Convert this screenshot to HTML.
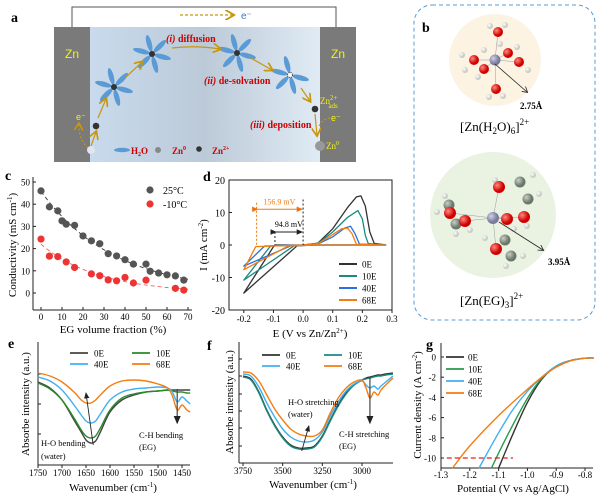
<!DOCTYPE html>
<html><head><meta charset="utf-8"><style>
html,body{margin:0;padding:0;background:#fff;}
svg{display:block;font-family:"Liberation Serif",serif;}
</style></head><body>
<svg id="fig" width="600" height="496" viewBox="0 0 600 496" xmlns="http://www.w3.org/2000/svg">
<defs>
<linearGradient id="elec" x1="0" x2="1" y1="0" y2="0"><stop offset="0" stop-color="#c8daec"/><stop offset="0.5" stop-color="#bccad8"/><stop offset="1" stop-color="#e0ebf4"/></linearGradient>
<radialGradient id="gO" cx="0.35" cy="0.35"><stop offset="0" stop-color="#ff8a80"/><stop offset="1" stop-color="#d00000"/></radialGradient>
<radialGradient id="gH" cx="0.35" cy="0.35"><stop offset="0" stop-color="#ffffff"/><stop offset="1" stop-color="#c8ccc4"/></radialGradient>
<radialGradient id="gZ" cx="0.35" cy="0.35"><stop offset="0" stop-color="#d0d0e8"/><stop offset="1" stop-color="#7a7a9a"/></radialGradient>
<radialGradient id="gC" cx="0.35" cy="0.35"><stop offset="0" stop-color="#c8d0c8"/><stop offset="1" stop-color="#6a786a"/></radialGradient>
<marker id="arY" markerWidth="8" markerHeight="8" refX="6" refY="4" orient="auto"><path d="M0,0 L7,4 L0,8" fill="none" stroke="#c8960c" stroke-width="1.4"/></marker>
<marker id="arK" markerWidth="8" markerHeight="8" refX="6" refY="4" orient="auto"><path d="M0,1 L7,4 L0,7 Z" fill="#222"/></marker>
<marker id="arKo" markerWidth="8" markerHeight="8" refX="6" refY="4" orient="auto"><path d="M0,0 L7,4 L0,8" fill="none" stroke="#222" stroke-width="1"/></marker>
<marker id="arO" markerWidth="8" markerHeight="8" refX="6" refY="4" orient="auto"><path d="M0,1 L7,4 L0,7 Z" fill="#f07010"/></marker>
</defs>

<!-- Panel a -->
<g>
<text x="11" y="22" font-size="14" font-weight="bold">a</text>
<polyline points="72,27 72,7 336,7 336,27" fill="none" stroke="#555" stroke-width="1"/>
<line x1="180" y1="15" x2="233" y2="15" stroke="#c8960c" stroke-width="1.3" stroke-dasharray="3,2" marker-end="url(#arY)"/>
<text x="241" y="19" font-size="10" fill="#3a7ac0" font-family="Liberation Sans, sans-serif">e⁻</text>
<rect x="90" y="27" width="230" height="135" fill="url(#elec)"/>
<rect x="54" y="27" width="36" height="135" fill="#7a7a7a"/>
<rect x="320" y="27" width="36" height="135" fill="#7a7a7a"/>
<text x="65" y="58" font-size="12" fill="#f0f020" font-family="Liberation Sans, sans-serif">Zn</text>
<text x="331" y="58" font-size="12" fill="#f0f020" font-family="Liberation Sans, sans-serif">Zn</text>
<g id="flowers"></g>
<text x="166" y="42" font-size="10" fill="#c00" font-weight="bold"><tspan font-style="italic">(i)</tspan> diffusion</text>
<text x="204" y="84" font-size="10" fill="#c00" font-weight="bold"><tspan font-style="italic">(ii)</tspan> de-solvation</text>
<text x="250" y="128" font-size="10" fill="#c00" font-weight="bold"><tspan font-style="italic">(iii)</tspan> deposition</text>
<path d="M172,48 Q195,45 220,49" fill="none" stroke="#c8960c" stroke-width="1.2" marker-end="url(#arY)"/>
<line x1="125" y1="78" x2="142" y2="62" stroke="#c8960c" stroke-width="1.2" marker-end="url(#arY)"/>
<line x1="98" y1="118" x2="106" y2="99" stroke="#c8960c" stroke-width="1.2" marker-end="url(#arY)"/>
<line x1="91" y1="146" x2="96" y2="132" stroke="#c8960c" stroke-width="1.2" marker-end="url(#arY)"/>
<line x1="249" y1="57" x2="272" y2="70" stroke="#c8960c" stroke-width="1.2" marker-end="url(#arY)"/>
<line x1="301" y1="88" x2="310" y2="101" stroke="#c8960c" stroke-width="1.2" marker-end="url(#arY)"/>
<line x1="315" y1="114" x2="317" y2="135" stroke="#c8960c" stroke-width="1.2" marker-end="url(#arY)"/>
<path d="M88,148 Q78,138 79,124" fill="none" stroke="#c8960c" stroke-width="1.1" stroke-dasharray="2,2" marker-end="url(#arY)"/>
<text x="76" y="120" font-size="9" fill="#f0f020" font-family="Liberation Sans, sans-serif">e⁻</text>
<path d="M330,118 Q320,120 319,128" fill="none" stroke="#c8960c" stroke-width="1.1" stroke-dasharray="2,2"/>
<text x="331" y="121" font-size="9" fill="#f0f020" font-family="Liberation Sans, sans-serif">e⁻</text>
<circle cx="96" cy="126" r="3.3" fill="#333"/>
<circle cx="315" cy="109" r="3.3" fill="#333"/>
<circle cx="91" cy="150" r="4" fill="#dfe6ee"/>
<circle cx="320" cy="146" r="5" fill="#999"/>
<text x="320" y="104" font-size="9" fill="#f0f020">Zn<tspan font-size="7" dy="-4">2+</tspan><tspan font-size="7" dx="-9" dy="8">ads</tspan></text>
<text x="326" y="149" font-size="9" fill="#f0f020">Zn<tspan font-size="6" dy="-4">0</tspan></text>
<ellipse cx="122" cy="150" rx="8" ry="2.2" fill="#5b9bd5"/>
<text x="131" y="154" font-size="9" fill="#c00" font-weight="bold">H<tspan font-size="6" dy="2">2</tspan><tspan dy="-2">O</tspan></text>
<circle cx="158" cy="150" r="3" fill="#888"/>
<text x="172" y="154" font-size="9" fill="#c00" font-weight="bold">Zn<tspan font-size="6" dy="-4">0</tspan></text>
<circle cx="199" cy="149" r="2.8" fill="#333"/>
<text x="212" y="154" font-size="9" fill="#c00" font-weight="bold">Zn<tspan font-size="6" dy="-4">2+</tspan></text>
</g>

<!-- Panel b -->
<g>
<rect x="414" y="5" width="181" height="315" rx="18" fill="none" stroke="#5b9bd5" stroke-width="1" stroke-dasharray="4,3"/>
<text x="422" y="32" font-size="14" font-weight="bold">b</text>
<circle cx="495" cy="60" r="46" fill="#fcf3e2"/>
<circle cx="493" cy="215" r="63" fill="#eaf3e2"/>
<g id="mol"></g>
<line x1="495" y1="64" x2="527" y2="92" stroke="#222" stroke-width="0.8" marker-end="url(#arKo)"/>
<text x="520" y="109" font-size="9" font-weight="bold">2.75Å</text>
<text x="460" y="131" font-size="13">[Zn(H<tspan font-size="9" dy="3">2</tspan><tspan dy="-3">O)</tspan><tspan font-size="9" dy="3">6</tspan><tspan dy="-3">]</tspan><tspan font-size="9" dy="-6">2+</tspan></text>
<line x1="499" y1="222" x2="543" y2="250" stroke="#222" stroke-width="0.8" marker-end="url(#arKo)"/>
<text x="548" y="265" font-size="9" font-weight="bold">3.95Å</text>
<text x="460" y="305" font-size="13">[Zn(EG)<tspan font-size="9" dy="3">3</tspan><tspan dy="-3">]</tspan><tspan font-size="9" dy="-6">2+</tspan></text>
</g>

<g id="charts"></g>
</svg>
<script>
// ---------- Panel c data ----------
const cFrac25 = [0,4,8,10,12,16,20,24,28,32,36,40,44,50,52,56,60,64,68];
const cCond25 = [46,38.8,37,32.5,31,30.5,25.7,23.5,22.2,17.7,16.7,15,13,13,9.8,9,8.2,7.7,5.8];
const cFrac10 = [0,4,8,12,16,24,28,32,36,40,44,50,64,68];
const cCond10 = [24.3,16.6,16.4,14,11.5,8.6,7.8,5.9,5.5,7,4.5,5.8,2.1,1.3];
const cXTicks = [0,10,20,30,40,50,60,70];
const cYTicks = [0,10,20,30,40,50];
// ---------- Panel d data ----------
const dSeries = ['0E','10E','40E','68E'];
const dE0 = [0.28,0.05,-0.02,-0.2,-0.1,-0.09,0.0,0.05,0.1,0.15,0.18,0.195,0.21,0.225,0.24,0.28];
const dI0 = [0,0,-0.2,-14.8,-0.5,0,0,0.6,5,11.5,14.8,15.1,12,4,0.5,0];
const dE10 = [0.28,0.05,-0.03,-0.2,-0.11,0.0,0.05,0.1,0.15,0.185,0.2,0.21,0.22,0.28];
const dI10 = [0,0,-0.2,-10.8,-0.3,0,0.5,4,8.5,10.6,8,3,0.4,0];
const dE40 = [0.28,0.05,-0.04,-0.2,-0.13,0.0,0.05,0.1,0.14,0.16,0.175,0.19,0.28];
const dI40 = [0,0,-0.2,-6.5,-0.3,0,0.3,2.5,5.2,5.8,3.5,0.3,0];
const dE68 = [0.28,0.05,-0.05,-0.2,-0.16,0.0,0.05,0.1,0.13,0.15,0.165,0.18,0.28];
const dI68 = [0,0,-0.3,-7.6,-0.5,0,0.4,3.2,5,5.2,3.5,0.2,0];
const dXTicks = [-0.2,-0.1,0.0,0.1,0.2,0.3];
const dYTicks = [-20,-10,0,10,20];
// ---------- Panel e data ----------
const eWave = [1750,1725,1700,1675,1660,1650,1640,1630,1620,1600,1575,1550,1525,1500,1480,1470,1460,1450,1440,1433];
const eAbs0 = [83,77,65,45,33,25,22,24,33,53,65,70,73,74,75,75,75,75,75,75];
const eAbs10 = [82,76,65,47,35,29,27,29,37,55,67,71,73,74,75,74,73,73,72,72];
const eAbs40 = [88,84,75,60,50,44,42,44,51,65,73,76,77,78,77,73,63,68,64,61];
const eAbs68 = [92,89,83,73,65,62,62,65,70,79,84,85,84,81,77,69,55,60,55,53];
const eXTicks = [1750,1700,1650,1600,1550,1500,1450];
// ---------- Panel f data ----------
const fWave = [3750,3700,3650,3600,3550,3500,3450,3400,3350,3300,3250,3200,3150,3100,3050,3000,2975,2950,2925,2900,2880,2850,2805];
const fAbs0 = [89,86,73,55,40,28,20,17,17,19,29,45,60,72,80,85,87,88,89,90,90,91,92];
const fAbs10 = [88,85,72,54,39,27,19,16,16,18,28,44,59,71,80,85,86,87,88,89,89,90,91];
const fAbs40 = [91,89,78,62,48,36,28,24,23,25,33,49,63,74,81,84,80,77,79,76,79,83,89];
const fAbs68 = [93,92,84,70,56,45,36,31,29,29,35,52,67,77,83,85,77,67,73,70,75,80,87];
const fXTicks = [3750,3500,3250,3000];
// ---------- Panel g data ----------
const gE0 = [-1.10,-1.05,-1.0,-0.95,-0.9,-0.85,-0.8,-0.77];
const gJ0 = [-11,-7.6,-4.5,-2.2,-0.9,-0.35,-0.12,-0.1];
const gE10 = [-1.125,-1.07,-1.0,-0.95,-0.9,-0.85,-0.8,-0.77];
const gJ10 = [-11,-7.8,-4.1,-2.1,-0.9,-0.35,-0.12,-0.1];
const gE40 = [-1.168,-1.1,-1.05,-1.0,-0.95,-0.9,-0.85,-0.8,-0.77];
const gJ40 = [-11,-7.5,-5.2,-3.4,-2.0,-0.9,-0.35,-0.12,-0.1];
const gE68 = [-1.26,-1.2,-1.1,-1.0,-0.95,-0.9,-0.85,-0.8,-0.77];
const gJ68 = [-11,-8.8,-5.8,-3.2,-2.0,-1.0,-0.38,-0.12,-0.1];
const gXTicks = [-1.3,-1.2,-1.1,-1.0,-0.9,-0.8];
const gYTicks = [0,-2,-4,-6,-8,-10];

const NS='http://www.w3.org/2000/svg';
function mk(tag, attrs, parent){const el=document.createElementNS(NS,tag);for(const k in attrs)el.setAttribute(k,attrs[k]);parent.appendChild(el);return el;}
function txt(s, attrs, parent){const el=mk('text',attrs,parent);el.textContent=s;return el;}
const root=document.getElementById('charts');

// ---------- Panel a flowers ----------
const fl=document.getElementById('flowers');
const flowerC=[[114,87,false],[152,54,false],[237,53,false],[290,75,true]];
flowerC.forEach((p,i)=>{
  const g=mk('g',{},fl);
  
  
  const n = p[2]?5:6;
  for(let k=0;k<n;k++){
    const a=k*360/6+15;
    const e=mk('ellipse',{cx:p[0]+11,cy:p[1],rx:8.5,ry:2.6,fill:'#5b9bd5',transform:`rotate(${a} ${p[0]} ${p[1]})`},g);
    
    
  }
  const c=mk('circle',{cx:p[0],cy:p[1],r:p[2]?2.5:3,fill:p[2]?'#fff':'#333',stroke:p[2]?'#333':'none','stroke-dasharray':p[2]?'1,1':'none'},g);
  
  
});

// ---------- Panel b molecules ----------
const mol=document.getElementById('mol');
const atoms1=[[495,60,'Z',5.5],[498,32,'O',5],[474,60,'O',5],[484,69,'O',5],[508,53,'O',5],[519,62,'O',5],[496,89,'O',5],[490,26,'H',3],[505,25,'H',3],[462,55,'H',3],[465,70,'H',3],[478,77,'H',3],[500,44,'H',3],[517,47,'H',3],[528,70,'H',3],[489,97,'H',3],[503,96,'H',3],[484,50,'H',3]];
const atoms2=[[493,218,'Z',6],[499,187,'O',6],[465,221,'O',6],[450,213,'O',6],[507,219,'O',6],[524,217,'O',6],[496,249,'O',6],[520,182,'C',5.5],[528,199,'C',5.5],[449,205,'C',5.5],[456,224,'C',5.5],[505,240,'C',5.5],[511,256,'C',5.5],[495,180,'H',3],[533,175,'H',3],[539,194,'H',3],[437,212,'H',3],[445,196,'H',3],[456,234,'H',3],[470,230,'H',3],[485,238,'H',3],[514,229,'H',3],[523,256,'H',3],[506,266,'H',3],[527,226,'H',3]];
[[atoms1,'h2o'],[atoms2,'eg']].forEach(([arr,nm])=>{
  const g=mk('g',{},mol);
  
  
  arr.forEach(a=>{ if(a[2]!=='Z') mk('line',{x1:arr[0][0],y1:arr[0][1],x2:a[0],y2:a[1],stroke:'#999','stroke-width':0.5,opacity:a[2]==='O'?1:0},g);});
  arr.slice().sort((p,q)=>p[3]-q[3]).forEach(a=>{
    const f={Z:'url(#gZ)',O:'url(#gO)',H:'url(#gH)',C:'url(#gC)'}[a[2]];
    const c=mk('circle',{cx:a[0],cy:a[1],r:a[3],fill:f},g);
    
    
  });
});

// ---------- generic helpers ----------
function lin(d0,d1,r0,r1){return v=>r0+(v-d0)*(r1-r0)/(d1-d0);}
function pathFrom(xs,ys,X,Y){return xs.map((x,i)=>(i?'L':'M')+X(x).toFixed(1)+','+Y(ys[i]).toFixed(1)).join(' ');}
function smoothFrom(xs,ys,X,Y){
  const p=xs.map((x,i)=>[X(x),Y(ys[i])]);
  let d='M'+p[0][0].toFixed(1)+','+p[0][1].toFixed(1);
  for(let i=0;i<p.length-1;i++){
    const p0=p[i-1]||p[i],p1=p[i],p2=p[i+1],p3=p[i+2]||p2;
    const c1=[p1[0]+(p2[0]-p0[0])/6,p1[1]+(p2[1]-p0[1])/6],c2=[p2[0]-(p3[0]-p1[0])/6,p2[1]-(p3[1]-p1[1])/6];
    d+=` C${c1[0].toFixed(1)},${c1[1].toFixed(1)} ${c2[0].toFixed(1)},${c2[1].toFixed(1)} ${p2[0].toFixed(1)},${p2[1].toFixed(1)}`;
  }
  return d;
}

// ---------- Panel c ----------
(function(){
  const g=mk('g',{},root);
  
  
  const X=lin(0,70,41,188), Y=lin(0,50,293,182);
  const lbl=txt('c',{x:5,y:180,'font-size':14,'font-weight':'bold'},g);
  
  
  const ya=mk('line',{x1:33,y1:177,x2:33,y2:310,stroke:'#222','stroke-width':1},g);
  
  
  const xa=mk('line',{x1:33,y1:310,x2:192,y2:310,stroke:'#222','stroke-width':1},g);
  
  
  cYTicks.forEach(v=>{mk('line',{x1:33,y1:Y(v),x2:36,y2:Y(v),stroke:'#222'},g);
    const t=txt(String(v),{x:30,y:Y(v)+3.5,'font-size':9,'text-anchor':'end'},g);
    
    });
  cXTicks.forEach(v=>{mk('line',{x1:X(v),y1:310,x2:X(v),y2:307,stroke:'#222'},g);
    const t=txt(String(v),{x:X(v),y:320,'font-size':9,'text-anchor':'middle'},g);
    
    });
  const xt=txt('EG volume fraction (%)',{x:113,y:333,'font-size':11,'text-anchor':'middle'},g);
  
  
  const yt=txt('',{x:0,y:0,'font-size':11,'text-anchor':'middle',transform:'translate(16,245) rotate(-90)'},g);
  yt.innerHTML='Conductivity (mS cm<tspan font-size="7" dy="-4">-1</tspan><tspan dy="4">)</tspan>';
  
  
  function expFit(xs,ys){const n=xs.length;let sx=0,sy=0,sxx=0,sxy=0;xs.forEach((x,i)=>{const ly=Math.log(ys[i]);sx+=x;sy+=ly;sxx+=x*x;sxy+=x*ly;});const b=(n*sxy-sx*sy)/(n*sxx-sx*sx);const a=(sy-b*sx)/n;return x=>Math.exp(a+b*x);}
  [[cFrac25,cCond25,'#333','fit-25c'],[cFrac10,cCond10,'#f06060','fit-minus10c']].forEach(([xs,ys,col,nm])=>{
    const f=expFit(xs,ys);const px=[];for(let x=0;x<=70;x+=2)px.push(x);
    const p=mk('path',{d:pathFrom(px,px.map(f),X,Y),fill:'none',stroke:col,'stroke-width':0.9,'stroke-dasharray':'4,3'},g);
    
    
  });
  cFrac25.forEach((x,i)=>{const c=mk('circle',{cx:X(x),cy:Y(cCond25[i]),r:3.6,fill:'#555'},g);
    
    });
  cFrac10.forEach((x,i)=>{const c=mk('circle',{cx:X(x),cy:Y(cCond10[i]),r:3.6,fill:'#ee3333'},g);
    
    });
  const l1=mk('circle',{cx:150,cy:190,r:3.6,fill:'#555'},g);
  
  
  const l1t=txt('25°C',{x:163,y:194,'font-size':10},g);
  
  
  const l2=mk('circle',{cx:150,cy:204,r:3.6,fill:'#ee3333'},g);
  
  
  const l2t=txt('-10°C',{x:163,y:208,'font-size':10},g);
  
  
})();

// ---------- Panel d ----------
(function(){
  const g=mk('g',{},root);
  
  
  const X=lin(-0.25,0.3,229,392), Y=lin(-20,20,310,180);
  const lbl=txt('d',{x:203,y:181,'font-size':14,'font-weight':'bold'},g);
  
  
  const fr=mk('rect',{x:229,y:180,width:163,height:130,fill:'none',stroke:'#222','stroke-width':1},g);
  
  
  dYTicks.forEach(v=>{mk('line',{x1:229,y1:Y(v),x2:232,y2:Y(v),stroke:'#222'},g);
    const t=txt(String(v),{x:225,y:Y(v)+4,'font-size':10,'text-anchor':'end'},g);
    
    });
  dXTicks.forEach(v=>{mk('line',{x1:X(v),y1:310,x2:X(v),y2:313,stroke:'#222'},g);
    const t=txt(v.toFixed(1),{x:X(v),y:322,'font-size':9,'text-anchor':'middle'},g);
    
    });
  const xt=txt('',{x:310,y:337,'font-size':11,'text-anchor':'middle'},g);
  xt.innerHTML='E (V vs Zn/Zn<tspan font-size="7" dy="-4">2+</tspan><tspan dy="4">)</tspan>';
  
  
  const yt=txt('',{x:0,y:0,'font-size':11,'text-anchor':'middle',transform:'translate(207,245) rotate(-90)'},g);
  yt.innerHTML='I (mA cm<tspan font-size="7" dy="-4">-2</tspan><tspan dy="4">)</tspan>';
  
  
  const cols=['#333','#1a8a80','#2a70e0','#f57c10'];
  const Es=[dE0,dE10,dE40,dE68], Is=[dI0,dI10,dI40,dI68];
  Es.forEach((E,k)=>{const p=mk('path',{d:pathFrom(E,Is[k],X,Y),fill:'none',stroke:cols[k],'stroke-width':1.3,'stroke-linejoin':'round'},g);
    
    });
  const a1=mk('line',{x1:X(-0.157),y1:Y(13),x2:X(-0.157),y2:Y(0),stroke:'#f57c10','stroke-dasharray':'2,2'},g);
  
  
  const a2=mk('line',{x1:X(0),y1:Y(14),x2:X(0),y2:Y(0),stroke:'#222','stroke-dasharray':'2,2'},g);
  
  
  const a3=mk('line',{x1:X(-0.095),y1:Y(4),x2:X(-0.095),y2:Y(0),stroke:'#222','stroke-dasharray':'2,2'},g);
  
  
  const ar1=mk('line',{x1:X(-0.157)+1,y1:Y(11),x2:X(0)-1,y2:Y(11),stroke:'#f57c10','stroke-width':0.9,'marker-start':'url(#arO)','marker-end':'url(#arO)'},g);
  
  
  const ar2=mk('line',{x1:X(-0.095)+1,y1:Y(4),x2:X(0)-1,y2:Y(4),stroke:'#222','stroke-width':0.9,'marker-start':'url(#arK)','marker-end':'url(#arK)'},g);
  
  
  const t1=txt('156.9 mV',{x:X(-0.08),y:Y(12.5),'font-size':8,fill:'#f57c10','text-anchor':'middle'},g);
  
  
  const t2=txt('94.8 mV',{x:X(-0.048),y:Y(5.5),'font-size':8,'text-anchor':'middle'},g);
  
  
  dSeries.forEach((s,k)=>{const y=264+k*12;
    const l=mk('line',{x1:339,y1:y,x2:357,y2:y,stroke:cols[k],'stroke-width':2},g);
    
    
    const t=txt(s,{x:362,y:y+3.5,'font-size':9},g);
    
    });
})();

function legend4(g,x0,y0,dx,dy,cols,names,prefix,twoCol){
  names.forEach((s,k)=>{const x=twoCol?x0+(k%2)*dx:x0, y=twoCol?y0+Math.floor(k/2)*dy:y0+k*dy;
    const l=mk('line',{x1:x,y1:y,x2:x+18,y2:y,stroke:cols[k],'stroke-width':1.8},g);
    
    
    const t=txt(s,{x:x+(twoCol?24:22),y:y+3.5,'font-size':9},g);
    
    });
}

// ---------- Panel e ----------
(function(){
  const g=mk('g',{},root);
  
  
  const X=lin(1750,1450,38,182), Y=v=>465-v;
  const lbl=txt('e',{x:8,y:348,'font-size':14,'font-weight':'bold'},g);
  
  
  const ya=mk('line',{x1:38,y1:342,x2:38,y2:465,stroke:'#222'},g);
  
  
  const xa=mk('line',{x1:38,y1:465,x2:190,y2:465,stroke:'#222'},g);
  
  
  [374,404,434].forEach(y=>mk('line',{x1:38,y1:y,x2:41,y2:y,stroke:'#222'},g));
  eXTicks.forEach(v=>{mk('line',{x1:X(v),y1:465,x2:X(v),y2:468,stroke:'#222'},g);
    const t=txt(String(v),{x:X(v),y:476,'font-size':9,'text-anchor':'middle'},g);
    
    });
  const xt=txt('',{x:113,y:491,'font-size':11,'text-anchor':'middle'},g);
  xt.innerHTML='Wavenumber (cm<tspan font-size="7" dy="-4">-1</tspan><tspan dy="4">)</tspan>';
  
  
  const yt=txt('Absorbe intensity (a.u.)',{x:0,y:0,'font-size':11,'text-anchor':'middle',transform:'translate(29,404) rotate(-90)'},g);
  
  
  const cols=['#444','#2a8a2a','#3fb0f0','#f57c10'];
  [eAbs0,eAbs10,eAbs40,eAbs68].forEach((a,k)=>{const p=mk('path',{d:smoothFrom(eWave,a,X,Y),fill:'none',stroke:cols[k],'stroke-width':1.4},g);
    
    });
  const ar=mk('line',{x1:X(1635),y1:445,x2:X(1650),y2:393,stroke:'#222','stroke-width':0.9,'marker-end':'url(#arK)'},g);
  
  
  const ar2=mk('line',{x1:X(1460),y1:389,x2:X(1460),y2:423,stroke:'#444','stroke-width':1.2,'marker-end':'url(#arK)'},g);
  
  
  [['H-O bending',41,446],['(water)',41,459],['C-H bending',139,438],['(EG)',139,450]].forEach(([s,x,y])=>{
    const t=txt(s,{x:x,y:y,'font-size':8.5},g);
    
    });
  legend4(g,70,353,62,11,cols,dSeries,'e',true);
})();

// ---------- Panel f ----------
(function(){
  const g=mk('g',{},root);
  
  
  const X=lin(3750,3000,243,362), Y=v=>465-v;
  const lbl=txt('f',{x:207,y:350,'font-size':14,'font-weight':'bold'},g);
  
  
  const ya=mk('line',{x1:239,y1:342,x2:239,y2:463,stroke:'#222'},g);
  
  
  const xa=mk('line',{x1:239,y1:463,x2:393,y2:463,stroke:'#222'},g);
  
  
  [359,376,394,411,428,446].forEach(y=>mk('line',{x1:239,y1:y,x2:242,y2:y,stroke:'#222'},g));
  fXTicks.forEach(v=>{mk('line',{x1:X(v),y1:463,x2:X(v),y2:466,stroke:'#222'},g);
    const t=txt(String(v),{x:X(v),y:474,'font-size':9,'text-anchor':'middle'},g);
    
    });
  const xt=txt('',{x:313,y:488,'font-size':11,'text-anchor':'middle'},g);
  xt.innerHTML='Wavenumber (cm<tspan font-size="7" dy="-4">-1</tspan><tspan dy="4">)</tspan>';
  
  
  const yt=txt('Absorbe intensity (a.u.)',{x:0,y:0,'font-size':11,'text-anchor':'middle',transform:'translate(233,402) rotate(-90)'},g);
  
  
  const cols=['#333','#1a8a80','#3fb0f0','#f57c10'];
  [fAbs0,fAbs10,fAbs40,fAbs68].forEach((a,k)=>{const p=mk('path',{d:smoothFrom(fWave,a,X,Y),fill:'none',stroke:cols[k],'stroke-width':1.4},g);
    
    });
  const ar=mk('line',{x1:X(3380),y1:451,x2:X(3335),y2:426,stroke:'#222','stroke-width':0.9,'marker-end':'url(#arK)'},g);
  
  
  const ar2=mk('line',{x1:X(2950),y1:377,x2:X(2950),y2:423,stroke:'#444','stroke-width':1.2,'marker-end':'url(#arK)'},g);
  
  
  [['H-O stretching',288,405],['(water)',288,417],['C-H stretching',339,437],['(EG)',339,449]].forEach(([s,x,y])=>{
    const t=txt(s,{x:x,y:y,'font-size':8.5},g);
    
    });
  legend4(g,262,355,62,11,cols,dSeries,'f',true);
})();

// ---------- Panel g ----------
(function(){
  const g=mk('g',{},root);
  
  
  const X=lin(-1.3,-0.8,441,585), Y=lin(0,-10,357,458);
  const lbl=txt('g',{x:426,y:349,'font-size':14,'font-weight':'bold'},g);
  
  
  const ya=mk('line',{x1:441,y1:343,x2:441,y2:468,stroke:'#222'},g);
  
  
  const xa=mk('line',{x1:441,y1:468,x2:593,y2:468,stroke:'#222'},g);
  
  
  gYTicks.forEach(v=>{mk('line',{x1:441,y1:Y(v),x2:444,y2:Y(v),stroke:'#222'},g);
    const t=txt(String(v),{x:436,y:Y(v)+3.5,'font-size':9,'text-anchor':'end'},g);
    
    });
  gXTicks.forEach(v=>{mk('line',{x1:X(v),y1:468,x2:X(v),y2:471,stroke:'#222'},g);
    const t=txt(v.toFixed(1),{x:X(v),y:478,'font-size':9,'text-anchor':'middle'},g);
    
    });
  const xt=txt('Potential (V vs Ag/AgCl)',{x:513,y:492,'font-size':11,'text-anchor':'middle'},g);
  
  
  const yt=txt('',{x:0,y:0,'font-size':11,'text-anchor':'middle',transform:'translate(421,405) rotate(-90)'},g);
  yt.innerHTML='Current density (A cm<tspan font-size="7" dy="-4">-2</tspan><tspan dy="4">)</tspan>';
  
  
  const cols=['#333','#2a9a4a','#3fb0f0','#f57c10'];
  const Es=[gE0,gE10,gE40,gE68], Js=[gJ0,gJ10,gJ40,gJ68];
  Es.forEach((E,k)=>{const p=mk('path',{d:smoothFrom(E,Js[k],X,Y),fill:'none',stroke:cols[k],'stroke-width':1.4},g);
    
    });
  const rl=mk('line',{x1:X(-1.28),y1:Y(-10),x2:X(-1.05),y2:Y(-10),stroke:'#e02020','stroke-width':1.2,'stroke-dasharray':'5,3'},g);
  
  
  legend4(g,446,357,0,12,cols,dSeries,'g',false);
})();
</script>
</body></html>
